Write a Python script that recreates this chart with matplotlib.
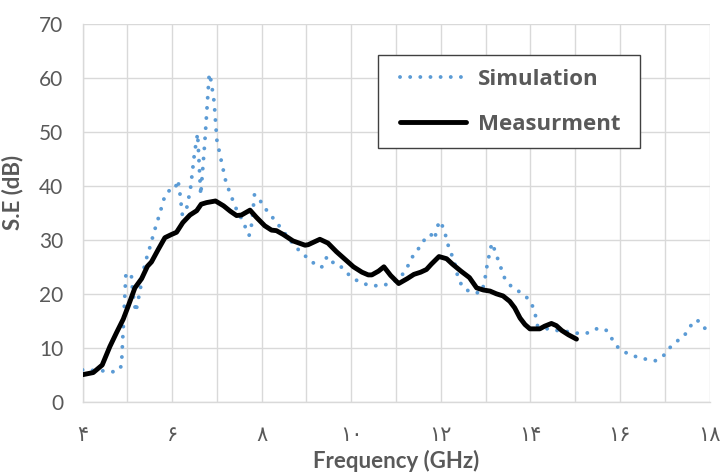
import matplotlib
matplotlib.use("Agg")
import matplotlib.pyplot as plt
from matplotlib.patches import Rectangle

# ---------------- data ----------------
sim_f = [4.0, 4.25, 4.5, 4.75, 4.87, 4.9, 4.97, 5.09, 5.12, 5.19, 5.28, 5.39, 5.5, 5.6,
         5.73, 5.85, 5.95, 6.06, 6.13, 6.17, 6.23, 6.32, 6.41, 6.5, 6.57, 6.64, 6.73, 6.83,
         6.87, 6.94, 7.0, 7.1, 7.2, 7.3, 7.44, 7.56, 7.65, 7.72, 7.78, 7.84, 7.93, 8.03,
         8.2, 8.4, 8.6, 8.76, 8.91, 9.1, 9.24, 9.35, 9.46, 9.55, 9.71, 9.86, 10.02, 10.2,
         10.43, 10.66, 10.88, 11.07, 11.22, 11.32, 11.43, 11.57, 11.66, 11.78, 11.87, 11.9,
         11.98, 12.07, 12.13, 12.19, 12.29, 12.39, 12.5, 12.69, 12.9, 12.97, 13.04, 13.14,
         13.2, 13.3, 13.43, 13.58, 13.77, 13.95, 14.05, 14.12, 14.16, 14.38, 14.6, 14.82,
         15.03, 15.26, 15.47, 15.68, 15.81, 15.94, 16.13, 16.34, 16.57, 16.79, 16.97, 17.1,
         17.27, 17.43, 17.55, 17.71, 17.86, 17.97]
sim_se = [5.9, 5.8, 5.7, 5.5, 6.6, 12.0, 23.8, 23.5, 20.5, 16.6, 20.4, 25.5, 28.5, 31.5,
          35.0, 38.5, 39.2, 39.3, 41.1, 39.0, 34.6, 35.6, 39.4, 46.0, 49.7, 38.3, 48.0, 60.8,
          59.5, 55.5, 48.5, 44.6, 40.8, 38.5, 35.6, 33.8, 32.1, 30.8, 33.0, 38.4, 37.9, 36.3,
          34.6, 32.5, 30.3, 28.7, 27.4, 26.2, 25.0, 25.0, 26.9, 25.9, 25.6, 24.2, 23.0, 22.1,
          21.5, 21.5, 21.9, 22.8, 24.4, 26.1, 27.8, 28.9, 30.5, 31.0, 30.1, 32.0,
          33.5, 32.0, 30.1, 28.2, 26.4, 22.8, 21.1, 20.2, 20.2, 21.9, 25.6, 29.4,
          28.2, 25.8, 22.8, 21.3, 20.3, 19.1, 17.7, 15.8, 14.1, 13.5, 13.2, 13.0,
          12.7, 12.7, 13.5, 13.4, 11.8, 10.2, 9.1, 8.4, 7.9, 7.6, 8.5, 9.9,
          11.2, 12.1, 13.8, 15.2, 14.2, 12.4]

meas_f = [4.0, 4.24, 4.44, 4.61, 4.76, 4.91, 5.02, 5.17, 5.32, 5.45, 5.54, 5.69, 5.84, 5.99,
          6.1, 6.24, 6.4, 6.55, 6.65, 6.77, 6.97, 7.15, 7.3, 7.44, 7.55, 7.74, 7.88, 8.07,
          8.22, 8.33, 8.48, 8.7, 8.97, 9.04, 9.3, 9.48, 9.67, 9.86, 10.05, 10.24, 10.38,
          10.46, 10.61, 10.73, 10.88, 11.06, 11.25, 11.4, 11.55, 11.68, 11.79, 11.96, 12.13,
          12.26, 12.45, 12.64, 12.8, 12.95, 13.1, 13.24, 13.39, 13.54, 13.65, 13.77, 13.88,
          13.99, 14.21, 14.32, 14.47, 14.58, 14.7, 14.85, 15.03]
meas_se = [5.0, 5.4, 6.8, 10.2, 12.8, 15.3, 17.7, 21.1, 22.8, 25.1, 25.9, 28.2, 30.4, 31.0,
           31.4, 33.2, 34.6, 35.4, 36.6, 36.9, 37.2, 36.3, 35.3, 34.5, 34.6, 35.5, 34.2, 32.6,
           31.8, 31.7, 31.0, 29.8, 29.0, 29.1, 30.1, 29.4, 27.8, 26.4, 25.0, 24.0, 23.5,
           23.5, 24.2, 25.0, 23.4, 21.9, 22.8, 23.6, 24.0, 24.5, 25.5, 26.9, 26.5,
           25.5, 24.2, 23.0, 21.1, 20.7, 20.5, 20.0, 19.6, 18.6, 17.4, 15.5, 14.3,
           13.5, 13.5, 14.0, 14.5, 14.1, 13.2, 12.4, 11.6]

x_ticks = list(range(4, 19))
x_tick_labels = ["۴", "", "۶", "", "۸", "", "۱۰", "", "۱۲", "", "۱۴", "", "۱۶", "", "۱۸"]
y_ticks = [0, 10, 20, 30, 40, 50, 60, 70]

series_names = ["Simulation", "Measurment"]

# ---------------- style ----------------
FONT = ["Lato", "DejaVu Sans"]
plt.rcParams["font.family"] = FONT
GRAY = "#595959"
GRID = "#d9d9d9"
BLUE = "#5B9BD5"

W, H = 727, 473
fig = plt.figure(figsize=(W / 100, H / 100), dpi=100)
left, right, top, bottom = 82.5, 709.5, 24.0, 401.7
ax = fig.add_axes([left / W, (H - bottom) / H, (right - left) / W, (bottom - top) / H])

sim_line, = ax.plot(sim_f, sim_se, color=BLUE, lw=2.8, linestyle=(0, (0.01, 2.6)),
                    dash_capstyle="round", zorder=3)
meas_line, = ax.plot(meas_f, meas_se, color="black", lw=3.5, solid_capstyle="round",
                     solid_joinstyle="round", zorder=4)

ax.set_xlim(4, 18)
ax.set_ylim(0, 70)
ax.set_xticks(x_ticks)
ax.set_xticklabels(x_tick_labels, family=["DejaVu Sans"], fontsize=15, color=GRAY)
ax.set_yticks(y_ticks)
ax.set_yticklabels([str(v) for v in y_ticks], fontsize=15, color=GRAY)
ax.tick_params(axis="both", length=0)
ax.tick_params(axis="y", pad=14)
ax.tick_params(axis="x", pad=17)

ax.grid(True, color=GRID, lw=1.0, zorder=0)
ax.set_axisbelow(True)
for s in ["top", "right"]:
    ax.spines[s].set_visible(False)
for s in ["left", "bottom"]:
    ax.spines[s].set_color(GRID)
    ax.spines[s].set_linewidth(1.0)

ax.set_xlabel("Frequency (GHz)", fontsize=16, fontweight="bold", color=GRAY, labelpad=3)
ax.set_ylabel("S.E (dB)", fontsize=16, fontweight="bold", color=GRAY)
ax.yaxis.set_label_coords(23 / W, (H - 192) / H, transform=fig.transFigure)

# legend frame (decoration box)
bx0, by0, bx1, by1 = 378, 55, 640, 148
frame = Rectangle((bx0 / W, 1 - by1 / H), (bx1 - bx0) / W, (by1 - by0) / H,
                  transform=fig.transFigure, facecolor="white", edgecolor="#404040",
                  lw=1.0, zorder=4.5, clip_on=False)
ax.add_patch(frame)

leg = ax.legend([sim_line, meas_line], series_names, loc="center left",
                bbox_to_anchor=(400 / W, 1 - 102 / H), bbox_transform=fig.transFigure,
                borderaxespad=0, frameon=False, handlelength=2.97, handletextpad=0.54,
                labelspacing=1.1, borderpad=0,
                prop={"family": ["Open Sans", "DejaVu Sans"], "weight": "bold", "size": 16})
leg.set_zorder(6)
for t in leg.get_texts():
    t.set_color(GRAY)

fig.savefig("out.png", dpi=100)
